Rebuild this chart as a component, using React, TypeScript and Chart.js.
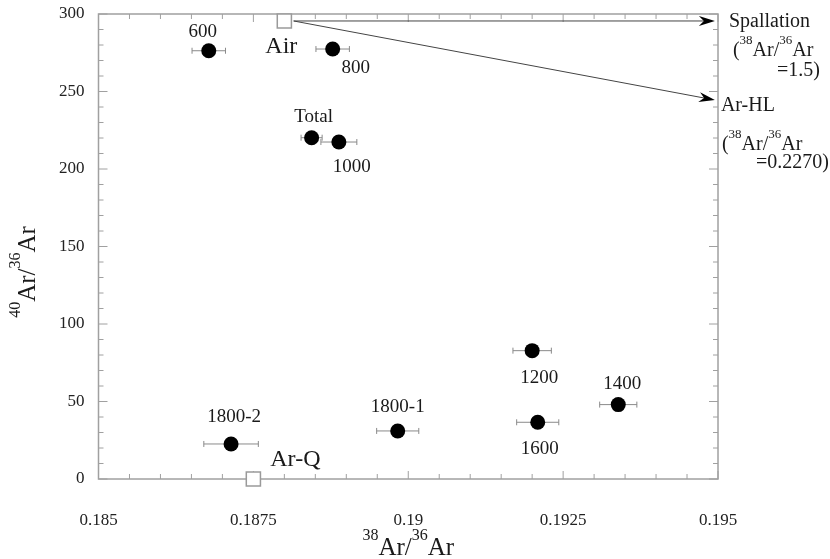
import React, { useEffect, useRef } from "react";
import { Chart, registerables } from "chart.js";

Chart.register(...registerables);

// ---- data ----
const STEP_LABELS = ["600", "800", "Total", "1000", "1200", "1400", "1600", "1800-1", "1800-2"];
const AR38_36 = [0.18678, 0.18878, 0.18844, 0.18888, 0.192, 0.19339, 0.19209, 0.18983, 0.18714];
const AR40_36 = [276.3, 277.4, 220.2, 217.4, 82.8, 48.0, 36.6, 31.0, 22.6];
const AR38_ERR = [0.00027, 0.00027, 0.00017, 0.00029, 0.00031, 0.0003, 0.00034, 0.00034, 0.00044];

const REF_NAMES = ["Air", "Ar-Q"];
const REF_AR38 = [0.188, 0.1875];
const REF_AR40 = [295.5, 0];

const END_NAMES = ["Spallation", "Ar-HL"];
const END_RATIOS = ["1.5", "0.2270"];
const ARROW_FROM_38 = 0.18815;
const ARROW_FROM_40 = 295.5;
const ARROW_TO_38 = [0.19495, 0.19495];
const ARROW_TO_40 = [295.5, 244.5];

const X_MIN = 0.185, X_MAX = 0.195, X_STEP = 0.0025, X_MINOR = 0.0005;
const Y_MIN = 0, Y_MAX = 300, Y_STEP = 50, Y_MINOR = 10;

// ---- presentation ----
const FAMILY = "'Liberation Serif', 'Times New Roman', serif";
const STEP_LABEL_OFFSET: [number, number][] = [
  [-6, -19], [23, 19], [2, -21], [13, 25], [7, 27], [4, -21], [2, 27], [0, -24], [3, -27],
];
const REF_LABEL_OFFSET: [number, number][] = [[-3, 26], [42, -19]];

type Part = { t: string; sup?: boolean };

function drawRich(
  ctx: CanvasRenderingContext2D,
  parts: Part[],
  x: number,
  y: number,
  align: "left" | "center" | "right",
  size: number,
  supSize: number
) {
  const widths = parts.map((p) => {
    ctx.font = `${p.sup ? supSize : size}px ${FAMILY}`;
    return ctx.measureText(p.t).width;
  });
  const total = widths.reduce((a, b) => a + b, 0);
  let cx = align === "left" ? x : align === "center" ? x - total / 2 : x - total;
  ctx.textAlign = "left";
  ctx.textBaseline = "alphabetic";
  parts.forEach((p, i) => {
    ctx.font = `${p.sup ? supSize : size}px ${FAMILY}`;
    ctx.fillText(p.t, cx, p.sup ? y - size * 0.6 : y);
    cx += widths[i];
  });
}

const decorPlugin = {
  id: "decor",
  beforeDatasetsDraw(chart: any) {
    const { ctx, chartArea: a, scales } = chart;
    const xs = scales.x, ys = scales.y;
    ctx.save();
    // frame
    ctx.strokeStyle = "#a0a0a0";
    ctx.lineWidth = 1.5;
    ctx.strokeRect(a.left, a.top, a.right - a.left, a.bottom - a.top);
    // x ticks
    ctx.lineWidth = 1;
    const nx = Math.round((X_MAX - X_MIN) / X_MINOR);
    for (let i = 0; i <= nx; i++) {
      const px = xs.getPixelForValue(X_MIN + i * X_MINOR);
      const len = i % 5 === 0 ? 8 : 5;
      ctx.beginPath();
      ctx.moveTo(px, a.bottom);
      ctx.lineTo(px, a.bottom - len);
      ctx.moveTo(px, a.top);
      ctx.lineTo(px, a.top + len);
      ctx.stroke();
    }
    const ny = Math.round((Y_MAX - Y_MIN) / Y_MINOR);
    for (let i = 0; i <= ny; i++) {
      const py = ys.getPixelForValue(Y_MIN + i * Y_MINOR);
      const len = i % 5 === 0 ? 9 : 5;
      ctx.beginPath();
      ctx.moveTo(a.left, py);
      ctx.lineTo(a.left + len, py);
      ctx.moveTo(a.right, py);
      ctx.lineTo(a.right - len, py);
      ctx.stroke();
    }
    // error bars
    ctx.strokeStyle = "#8a8a8a";
    ctx.lineWidth = 1;
    AR38_36.forEach((v, i) => {
      const x1 = xs.getPixelForValue(v - AR38_ERR[i]);
      const x2 = xs.getPixelForValue(v + AR38_ERR[i]);
      const py = ys.getPixelForValue(AR40_36[i]);
      ctx.beginPath();
      ctx.moveTo(x1, py);
      ctx.lineTo(x2, py);
      ctx.moveTo(x1, py - 3);
      ctx.lineTo(x1, py + 3);
      ctx.moveTo(x2, py - 3);
      ctx.lineTo(x2, py + 3);
      ctx.stroke();
    });
    // arrows
    const sx = xs.getPixelForValue(ARROW_FROM_38);
    const sy = ys.getPixelForValue(ARROW_FROM_40);
    ARROW_TO_38.forEach((tx38, i) => {
      const tx = xs.getPixelForValue(tx38);
      const ty = ys.getPixelForValue(ARROW_TO_40[i]);
      const ang = Math.atan2(ty - sy, tx - sx);
      const L = 16, W = 5, N = 11;
      ctx.strokeStyle = "#444";
      ctx.lineWidth = 1;
      ctx.beginPath();
      ctx.moveTo(sx, sy);
      ctx.lineTo(tx - Math.cos(ang) * N, ty - Math.sin(ang) * N);
      ctx.stroke();
      ctx.fillStyle = "#000";
      ctx.beginPath();
      const c = Math.cos(ang), s = Math.sin(ang);
      ctx.moveTo(tx, ty);
      ctx.lineTo(tx - c * L - s * W, ty - s * L + c * W);
      ctx.lineTo(tx - c * N, ty - s * N);
      ctx.lineTo(tx - c * L + s * W, ty - s * L - c * W);
      ctx.closePath();
      ctx.fill();
    });
    ctx.restore();
  },
  afterDatasetsDraw(chart: any) {
    const { ctx, chartArea: a, scales } = chart;
    const xs = scales.x, ys = scales.y;
    ctx.save();
    ctx.fillStyle = "#1a1a1a";
    ctx.textAlign = "center";
    ctx.textBaseline = "middle";
    ctx.font = `19px ${FAMILY}`;
    STEP_LABELS.forEach((t, i) => {
      const px = xs.getPixelForValue(AR38_36[i]);
      const py = ys.getPixelForValue(AR40_36[i]);
      ctx.fillText(t, px + STEP_LABEL_OFFSET[i][0], py + STEP_LABEL_OFFSET[i][1]);
    });
    ctx.font = `24px ${FAMILY}`;
    REF_NAMES.forEach((t, i) => {
      const px = xs.getPixelForValue(REF_AR38[i]);
      const py = ys.getPixelForValue(REF_AR40[i]);
      ctx.fillText(t, px + REF_LABEL_OFFSET[i][0], py + REF_LABEL_OFFSET[i][1]);
    });
    // end-member annotations
    ARROW_TO_38.forEach((tx38, i) => {
      const tx = xs.getPixelForValue(tx38);
      const ty = ys.getPixelForValue(ARROW_TO_40[i]);
      ctx.font = `20px ${FAMILY}`;
      ctx.textAlign = "left";
      ctx.textBaseline = "alphabetic";
      if (i === 0) {
        ctx.fillText(END_NAMES[i], tx + 14, ty + 6);
        drawRich(ctx, [{ t: "(" }, { t: "38", sup: true }, { t: "Ar/" }, { t: "36", sup: true }, { t: "Ar" }], tx + 18, ty + 35, "left", 20, 13);
        drawRich(ctx, [{ t: "=" + END_RATIOS[i] + ")" }], 820, ty + 55, "right", 20, 13);
      } else {
        ctx.fillText(END_NAMES[i], tx + 6, ty + 11);
        drawRich(ctx, [{ t: "(" }, { t: "38", sup: true }, { t: "Ar/" }, { t: "36", sup: true }, { t: "Ar" }], tx + 7, ty + 50, "left", 20, 13);
        drawRich(ctx, [{ t: "=" + END_RATIOS[i] + ")" }], 829, ty + 68, "right", 20, 13);
      }
    });
    // axis titles
    drawRich(ctx, [{ t: "38", sup: true }, { t: "Ar/" }, { t: "36", sup: true }, { t: "Ar" }], (a.left + a.right) / 2, 555, "center", 25, 16);
    ctx.translate(35, 272);
    ctx.rotate(-Math.PI / 2);
    drawRich(ctx, [{ t: "40", sup: true }, { t: "Ar/" }, { t: "36", sup: true }, { t: "Ar" }], 0, 0, "center", 25, 16);
    ctx.restore();
  },
};

export default function App() {
  const ref = useRef<HTMLCanvasElement | null>(null);
  useEffect(() => {
    if (!ref.current) return;
    const chart = new Chart(ref.current, {
      type: "scatter",
      data: {
        datasets: [
          {
            label: "steps",
            data: AR38_36.map((x, i) => ({ x, y: AR40_36[i] })),
            backgroundColor: "#000",
            borderWidth: 0,
            pointRadius: 7.5,
            clip: false,
          },
          {
            label: "refs",
            data: REF_AR38.map((x, i) => ({ x, y: REF_AR40[i] })),
            pointStyle: "rect",
            pointRadius: 10,
            backgroundColor: "#fff",
            borderColor: "#9a9a9a",
            borderWidth: 1.5,
            clip: false,
          },
        ],
      },
      options: {
        animation: false,
        responsive: true,
        maintainAspectRatio: false,
        layout: { padding: { top: 14, right: 112, left: 0, bottom: 0 } },
        plugins: { legend: { display: false }, tooltip: { enabled: false } },
        scales: {
          x: {
            type: "linear",
            min: X_MIN,
            max: X_MAX,
            grid: { display: false, drawTicks: false },
            border: { display: false },
            ticks: {
              stepSize: X_STEP,
              padding: 31,
              color: "#222",
              font: { family: FAMILY, size: 17 },
              maxRotation: 0,
              callback: (v: any) => String(Number(Number(v).toFixed(4))),
            },
            afterFit: (s: any) => { s.height = 80; s.paddingLeft = 0; s.paddingRight = 0; },
          },
          y: {
            type: "linear",
            min: Y_MIN,
            max: Y_MAX,
            grid: { display: false, drawTicks: false },
            border: { display: false },
            ticks: {
              stepSize: Y_STEP,
              padding: 14,
              color: "#222",
              font: { family: FAMILY, size: 17 },
            },
            afterFit: (s: any) => { s.width = 98.5; s.paddingTop = 0; s.paddingBottom = 0; },
          },
        },
      } as any,
      plugins: [decorPlugin],
    });
    return () => chart.destroy();
  }, []);
  return (
    <div style={{ position: "absolute", left: 0, top: 0, width: 830, height: 559, background: "#fff" }}>
      <canvas ref={ref} />
    </div>
  );
}
